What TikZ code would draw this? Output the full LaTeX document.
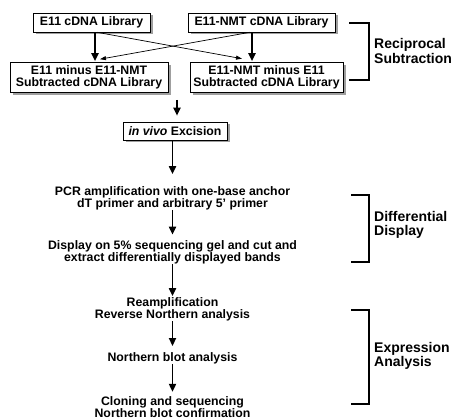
\documentclass[tikz,border=0pt]{standalone}
\usepackage{fontspec}
\setmainfont{Liberation Sans}
\usetikzlibrary{arrows.meta,shadows}
\begin{document}
\begin{tikzpicture}[x=1pt,y=-1pt,
  box/.style={draw=black, line width=0.6pt, fill=white, inner sep=0pt, align=center,
     drop shadow={shadow xshift=2.5pt, shadow yshift=-2.5pt, fill=gray!75, opacity=1},
     font=\fontsize{12.3}{11.8}\selectfont\bfseries},
  txt/.style={inner sep=0pt, align=center, font=\fontsize{12.3}{11.8}\selectfont\bfseries},
  lab/.style={inner sep=0pt, align=left, anchor=west, font=\fontsize{14}{14.5}\selectfont\bfseries},
  arr/.style={line width=1.8pt, -{Triangle[length=8pt,width=7pt]}},
  thinarr/.style={line width=0.7pt, -{Triangle[length=6pt,width=4pt]}},
  brk/.style={line width=1.1pt}
]
\useasboundingbox (0,0) rectangle (456,419);

\node[box, minimum width=117pt, minimum height=19pt] (b1) at (91.5,22.5) {E11 cDNA Library};
\node[box, minimum width=147pt, minimum height=19pt] (b2) at (261.5,22.5) {E11-NMT cDNA Library};
\node[box, minimum width=158pt, minimum height=30pt] (b3) at (89,77.5) {E11 minus E11-NMT\\Subtracted cDNA Library};
\node[box, minimum width=153pt, minimum height=30pt] (b4) at (266.5,77.5) {E11-NMT minus E11\\Subtracted cDNA Library};
\node[box, minimum width=104pt, minimum height=18pt] (b5) at (175,131) {\textit{in vivo} Excision};

\node[txt] (t1) at (172.5,198) {PCR amplification with one-base anchor\\dT primer and arbitrary 5' primer};
\node[txt] (t2) at (172.5,252.5) {Display on 5\% sequencing gel and cut and\\extract differentially displayed bands};
\node[txt] (t3) at (172.5,309.5) {Reamplification\\Reverse Northern analysis};
\node[txt] (t4) at (172.5,358) {Northern blot analysis};
\node[txt] (t5) at (172.5,407.5) {Cloning and sequencing\\Northern blot confirmation};

\draw[arr] ([xshift=3.5pt]b1.south) -- ([xshift=6pt,yshift=1pt]b3.north);
\draw[arr] ([xshift=-9.5pt]b2.south) -- ([xshift=-14.5pt,yshift=1pt]b4.north);
\draw[thinarr] ([xshift=5.5pt]b1.south) -- ([xshift=-24.5pt,yshift=3.5pt]b4.north);
\draw[thinarr] ([xshift=-11.5pt]b2.south) -- ([xshift=11pt,yshift=3pt]b3.north);

\coordinate (m) at (177,100);
\draw[arr] (m) -- ([xshift=2pt,yshift=6pt]b5.north);
\draw[arr] ([xshift=-2.5pt]b5.south) -- ([yshift=12pt]t1.north);
\draw[arr] (t1.south) -- ([yshift=6pt]t2.north);
\draw[arr] (t2.south) -- ([yshift=1.5pt]t3.north);
\draw[arr] (t3.south) -- ([yshift=6pt]t4.north);
\draw[arr] (t4.south) -- ([yshift=5pt]t5.north);

\draw[brk] (349,23) -- (369,23) -- (369,80) -- (349,80);
\draw[brk] (351,195) -- (369,195) -- (369,262) -- (351,262);
\draw[brk] (351,310) -- (369,310) -- (369,404) -- (351,404);
\node[lab] (l1) at (374,51) {Reciprocal\\Subtraction};
\node[lab] (l2) at (374,225) {Differential\\Display};
\node[lab] (l3) at (374,356) {Expression\\Analysis};
\end{tikzpicture}
\end{document}
